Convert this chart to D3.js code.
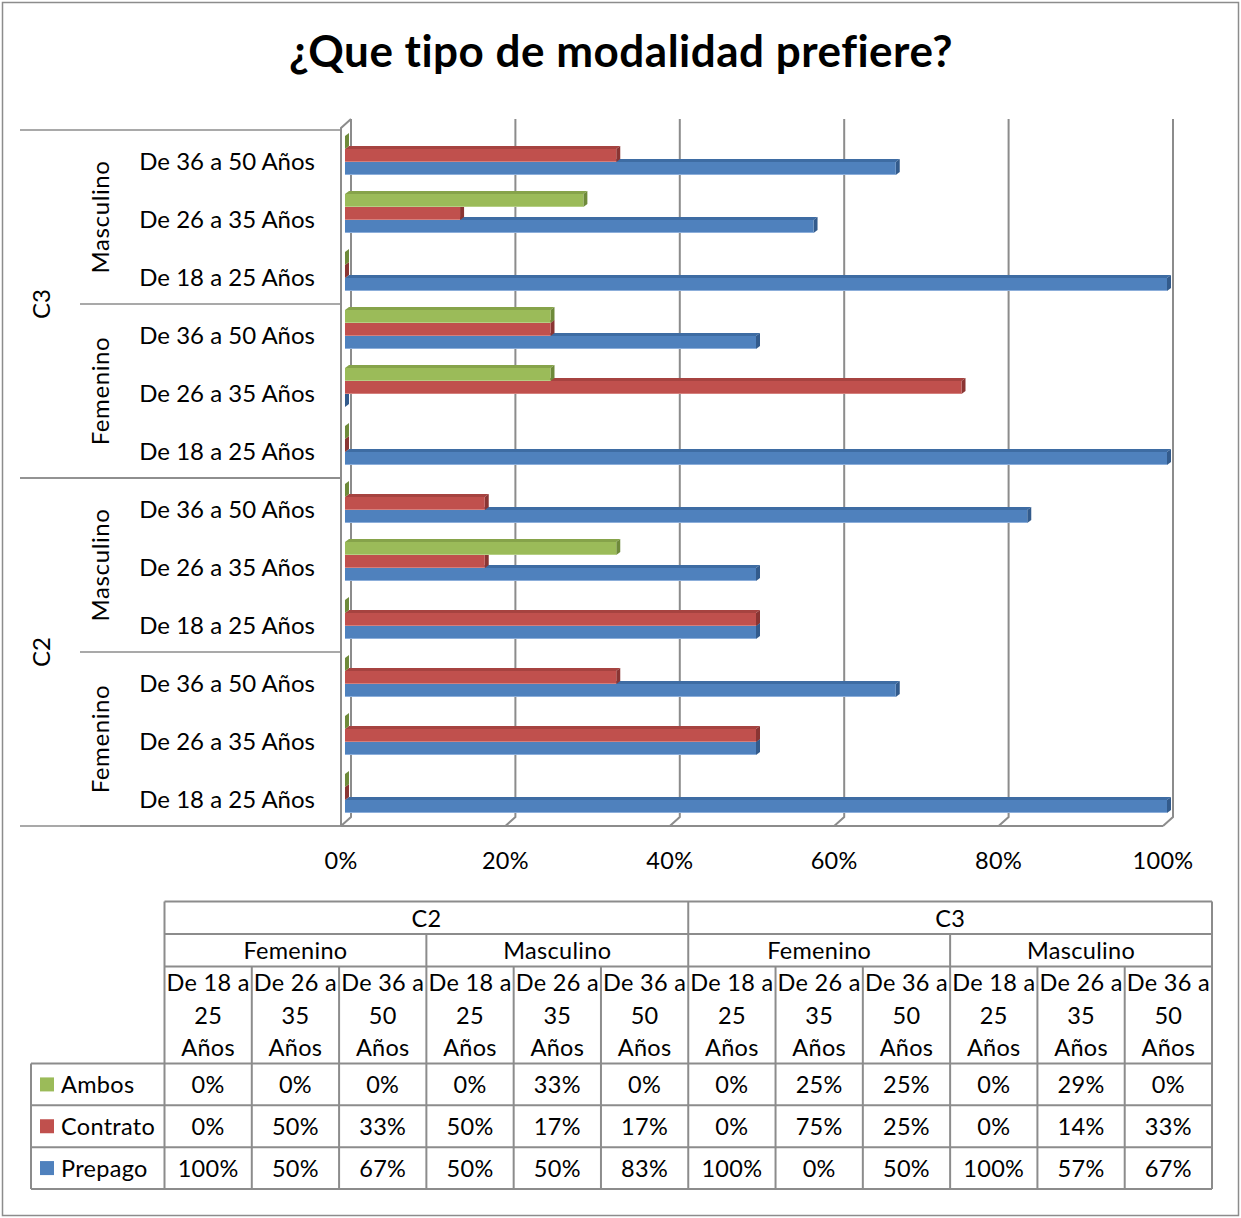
<!DOCTYPE html>
<html>
<head>
<meta charset="utf-8">
<script src="https://cdn.jsdelivr.net/npm/d3@7"></script>
<style>
  html, body { margin: 0; padding: 0; background: #fff; }
  svg { display: block; }
  text { font-family: Lato, "Open Sans", sans-serif; fill: #000; }
</style>
</head>
<body>
<svg id="chart" width="1241" height="1218"></svg>
<script>
// ---- data ----
const segments = ["C2", "C3"];
const genders = ["Femenino", "Masculino"];
const ages = ["De 18 a 25 Años", "De 26 a 35 Años", "De 36 a 50 Años"];
const seriesNames = ["Ambos", "Contrato", "Prepago"];
// values in %, ordered C2-Fem(18,26,36), C2-Masc(...), C3-Fem(...), C3-Masc(...)
const ambos    = [0, 0, 0, 0, 33, 0, 0, 25, 25, 0, 29, 0];
const contrato = [0, 50, 33, 50, 17, 17, 0, 75, 25, 0, 14, 33];
const prepago  = [100, 50, 67, 50, 50, 83, 100, 0, 50, 100, 57, 67];
const xTicks = [0, 20, 40, 60, 80, 100];

const seriesValues = [ambos, contrato, prepago];
const palette = {
  Ambos:    { front: "#9BBB59", top: "#86A34A", side: "#6E8A3A", edge: "#B5CF84" },
  Contrato: { front: "#C0504D", top: "#A64340", side: "#8A3533", edge: "#D47F7C" },
  Prepago:  { front: "#4F81BD", top: "#3E6CA3", side: "#335B8C", edge: "#8CAEDA" }
};

// categories built from the grouping arrays
const cats = [];
segments.forEach(s => genders.forEach(g => ages.forEach(a => cats.push({ seg: s, gen: g, age: a }))));

const svg = d3.select("#chart");
const GRID = "#8C8C8C";

// outer frame
svg.append("rect").attr("x", 2.5).attr("y", 2.5).attr("width", 1236).attr("height", 1213)
  .attr("fill", "#fff").attr("stroke", "#8C8C8C").attr("stroke-width", 1.5);

// title
svg.append("text").attr("x", 621).attr("y", 67).attr("text-anchor", "middle")
  .style("font-size", "44px").style("font-weight", "bold").style("letter-spacing", "0.5px")
  .text("¿Que tipo de modalidad prefiere?");

// ---- plot geometry ----
const plotTop = 130, plotBottom = 826;
const depthY = 9;                          // wall / floor depth offset
const x = d3.scaleLinear().domain([0, 100]).range([345, 1167]);   // bars (mid depth)
const xFront = v => x(v) - 4;
const xBack = v => x(v) + 6;

// rows: index 0 at the bottom
const y = d3.scaleBand().domain(d3.range(cats.length).reverse()).range([plotTop, plotBottom]);
const ySeries = d3.scaleBand().domain(seriesNames).range([6, 45]);

// back-wall gridlines with floor diagonals
const grid = svg.append("g").attr("fill", "none").attr("stroke", GRID).attr("stroke-width", 2);
xTicks.forEach(t => {
  grid.append("path").attr("d", d3.line()([
    [xBack(t), plotTop - 11], [xBack(t), plotBottom - depthY], [xFront(t), plotBottom]
  ]));
});
// left wall front edge and top
grid.append("path").attr("d", d3.line()([
  [xFront(0), plotBottom], [xFront(0), plotTop - 2], [xBack(0), plotTop - 11]
]));
// floor front edge
grid.append("path").attr("d", d3.line()([[xFront(0), plotBottom], [xFront(100), plotBottom]]));

// ---- 3D bars ----
const dx = 4, dy = 3;
const bars = svg.append("g");
cats.forEach((c, i) => {
  const rowTop = y(i);
  // draw bottom series first so upper bars hide the caps underneath
  for (let s = seriesNames.length - 1; s >= 0; s--) {
    const name = seriesNames[s];
    const col = palette[name];
    const v = seriesValues[s][i];
    const x0 = x(0), x1 = x(v);
    const yt = rowTop + ySeries(name), h = ySeries.bandwidth();
    const g = bars.append("g");
    g.append("polygon").attr("fill", col.top)
      .attr("points", [[x0, yt], [x1, yt], [x1 + dx, yt - dy], [x0 + dx, yt - dy]].join(" "));
    g.append("polygon").attr("fill", col.side)
      .attr("points", [[x1, yt], [x1 + dx, yt - dy], [x1 + dx, yt + h - dy], [x1, yt + h]].join(" "));
    if (v > 0) {
      g.append("rect").attr("x", x0).attr("y", yt).attr("width", x1 - x0).attr("height", h)
        .attr("fill", col.front);
      g.append("line").attr("x1", x0).attr("x2", x1).attr("y1", yt + h - 0.5).attr("y2", yt + h - 0.5)
        .attr("stroke", col.edge).attr("stroke-width", 1);
    }
  }
});

// ---- x axis labels ----
svg.append("g").selectAll("text").data(xTicks).join("text")
  .attr("x", d => xFront(d)).attr("y", 869).attr("text-anchor", "middle")
  .style("font-size", "23.5px").style("letter-spacing", "0.3px").text(d => d + "%");

// ---- multi-level category axis ----
const cat = svg.append("g");
const LABEL_SIZE = "24px";
cats.forEach((c, i) => {
  cat.append("text").attr("x", 315).attr("y", y(i) + y.bandwidth() / 2 + 1)
    .attr("text-anchor", "end").attr("dominant-baseline", "central")
    .style("font-size", LABEL_SIZE).text(c.age);
});
const sepLines = svg.append("g").attr("stroke", GRID).attr("stroke-width", 1.5);
// gender groups
segments.forEach(s => genders.forEach(g => {
  const idx = d3.range(cats.length).filter(k => cats[k].seg === s && cats[k].gen === g);
  const top = y(d3.max(idx)), bot = y(d3.min(idx)) + y.bandwidth();
  cat.append("text")
    .attr("transform", `translate(99,${(top + bot) / 2}) rotate(-90)`)
    .attr("text-anchor", "middle").attr("dominant-baseline", "central")
    .style("font-size", LABEL_SIZE).style("letter-spacing", "0.6px").text(g);
  sepLines.append("line").attr("x1", 80).attr("x2", xFront(0)).attr("y1", bot).attr("y2", bot);
}));
// segment groups
segments.forEach(s => {
  const idx = d3.range(cats.length).filter(k => cats[k].seg === s);
  const top = y(d3.max(idx)), bot = y(d3.min(idx)) + y.bandwidth();
  cat.append("text")
    .attr("transform", `translate(40,${(top + bot) / 2}) rotate(-90)`)
    .attr("text-anchor", "middle").attr("dominant-baseline", "central")
    .style("font-size", LABEL_SIZE).text(s);
  sepLines.append("line").attr("x1", 20).attr("x2", xFront(0)).attr("y1", top).attr("y2", top);
  sepLines.append("line").attr("x1", 20).attr("x2", xFront(0)).attr("y1", bot).attr("y2", bot);
});

// ---- data table ----
const tLeft = 31, tCol0 = 164.5, tRight = 1212;
const colX = d3.scaleBand().domain(d3.range(cats.length)).range([tCol0, tRight]);
const rowsY = { seg: [901.5, 934], gen: [934, 966.5], age: [966.5, 1063.5] };
const dataRowY = d3.scaleBand().domain(seriesNames).range([1063.5, 1189]);
const table = svg.append("g");
const TS = "23.5px", TLS = "0.3px";
const cell = (xx, yy, str, anchor) => table.append("text").attr("x", xx).attr("y", yy)
  .attr("text-anchor", anchor || "middle").attr("dominant-baseline", "central")
  .style("font-size", TS).style("letter-spacing", TLS).text(str);

// header cells
segments.forEach(s => {
  const idx = d3.range(cats.length).filter(k => cats[k].seg === s);
  const xa = colX(d3.min(idx)), xb = colX(d3.max(idx)) + colX.bandwidth();
  cell((xa + xb) / 2, (rowsY.seg[0] + rowsY.seg[1]) / 2, s);
  genders.forEach(g => {
    const gi = idx.filter(k => cats[k].gen === g);
    const ga = colX(d3.min(gi)), gb = colX(d3.max(gi)) + colX.bandwidth();
    cell((ga + gb) / 2, (rowsY.gen[0] + rowsY.gen[1]) / 2, g);
  });
});
cats.forEach((c, i) => {
  const m = c.age.match(/^(De \d+ a) (\d+) (.+)$/);
  const cx = colX(i) + colX.bandwidth() / 2;
  [m[1], m[2], m[3]].forEach((ln, li) => cell(cx, 982 + li * 32.5, ln));
});
// value cells and legend keys
seriesNames.forEach((name, s) => {
  const yc = dataRowY(name) + dataRowY.bandwidth() / 2;
  table.append("rect").attr("x", 40).attr("y", yc - 7).attr("width", 14).attr("height", 14)
    .attr("fill", palette[name].front);
  cell(61, yc, name, "start");
  cats.forEach((c, i) => cell(colX(i) + colX.bandwidth() / 2, yc, seriesValues[s][i] + "%"));
});

// table grid lines
const tl = table.append("g").attr("stroke", GRID).attr("stroke-width", 2).attr("fill", "none");
const hline = (xa, xb, yy) => tl.append("line").attr("x1", xa).attr("x2", xb).attr("y1", yy).attr("y2", yy);
const vline = (xx, ya, yb) => tl.append("line").attr("x1", xx).attr("x2", xx).attr("y1", ya).attr("y2", yb);
const tBottom = dataRowY.range()[1];
hline(tCol0, tRight, rowsY.seg[0]);
hline(tCol0, tRight, rowsY.gen[0]);
hline(tCol0, tRight, rowsY.age[0]);
seriesNames.forEach(n => hline(tLeft, tRight, dataRowY(n)));
hline(tLeft, tRight, tBottom);
vline(tLeft, rowsY.age[1], tBottom);
vline(tRight, rowsY.seg[0], tBottom);
cats.forEach((c, i) => {
  let ya = rowsY.age[0];
  if (i % 6 === 0) ya = rowsY.seg[0];
  else if (i % 3 === 0) ya = rowsY.gen[0];
  vline(colX(i), ya, tBottom);
});
</script>
</body>
</html>
